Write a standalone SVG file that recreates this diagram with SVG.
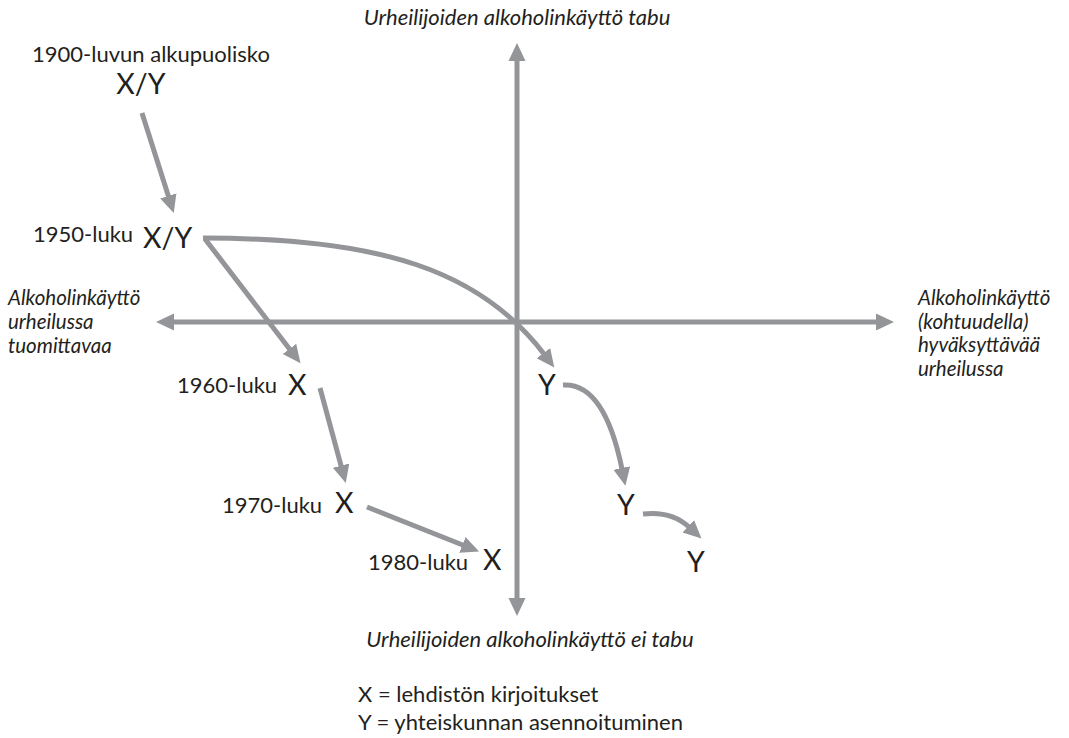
<svg xmlns="http://www.w3.org/2000/svg" width="1069" height="738" viewBox="0 0 1069 738">
<style>
.t{font-family:Lato,"Open Sans",sans-serif;fill:#231f20;font-size:22px}
.i{font-style:italic}
.s{font-size:20.5px}
.b{font-size:28.5px}
.ln{fill:none;stroke:#939598;stroke-width:5}
</style>
<defs>
<marker id="ah" markerUnits="userSpaceOnUse" markerWidth="20" markerHeight="20" viewBox="0 -9 20 18" refX="1" refY="0" orient="auto-start-reverse">
<path d="M0,-8.5 L18,0 L0,8.5 Z" fill="#939598"/>
</marker>
</defs>
<g id="connectors">
<path class="ln" d="M517,60 L517,599" marker-start="url(#ah)" marker-end="url(#ah)"/>
<path class="ln" d="M173,322 L877,322" marker-start="url(#ah)" marker-end="url(#ah)"/>
<path class="ln" d="M142,113 L168.6,196.8" marker-end="url(#ah)"/>
<path class="ln" d="M205,239 L290.1,349.7" marker-end="url(#ah)"/>
<path class="ln" d="M203,238 C380,238 480,270 544,354" marker-end="url(#ah)"/>
<path class="ln" d="M320,388 L341.3,466.6" marker-end="url(#ah)"/>
<path class="ln" d="M367,507 L463.3,545.3" marker-end="url(#ah)"/>
<path class="ln" d="M563,385 C595,383 612,420 622,469" marker-end="url(#ah)"/>
<path class="ln" d="M643,514 C660,512 676,515 689,527" marker-end="url(#ah)"/>
</g>
<g id="axis-top"><text class="t i" x="517" y="25" text-anchor="middle">Urheilijoiden alkoholinkäyttö tabu</text></g>
<g id="axis-bottom"><text class="t i" x="530" y="647" text-anchor="middle">Urheilijoiden alkoholinkäyttö ei tabu</text></g>
<g id="axis-left"><text class="t i s"><tspan x="8" y="305">Alkoholinkäyttö</tspan><tspan x="8" y="329">urheilussa</tspan><tspan x="8" y="353">tuomittavaa</tspan></text></g>
<g id="axis-right"><text class="t i s"><tspan x="918" y="305">Alkoholinkäyttö</tspan><tspan x="918" y="328.5">(kohtuudella)</tspan><tspan x="918" y="352">hyväksyttävää</tspan><tspan x="918" y="375.5">urheilussa</tspan></text></g>
<g id="n1900"><text class="t" x="32" y="62">1900-luvun alkupuolisko</text><text class="t b" x="141" y="94" text-anchor="middle">X/Y</text></g>
<g id="n1950"><text class="t" x="33" y="242">1950-luku</text><text class="t b" x="143" y="248">X/Y</text></g>
<g id="n1960"><text class="t" x="177" y="393">1960-luku</text><text class="t b" x="288" y="395">X</text></g>
<g id="n1970"><text class="t" x="222" y="513">1970-luku</text><text class="t b" x="335" y="513">X</text></g>
<g id="n1980"><text class="t" x="368" y="570">1980-luku</text><text class="t b" x="483" y="570">X</text></g>
<g id="y1"><text class="t b" x="538" y="395">Y</text></g>
<g id="y2"><text class="t b" x="617" y="515">Y</text></g>
<g id="y3"><text class="t b" x="687" y="572">Y</text></g>
<g id="legend"><text class="t"><tspan x="358" y="702">X = lehdistön kirjoitukset</tspan><tspan x="358" y="730">Y = yhteiskunnan asennoituminen</tspan></text></g>
</svg>
